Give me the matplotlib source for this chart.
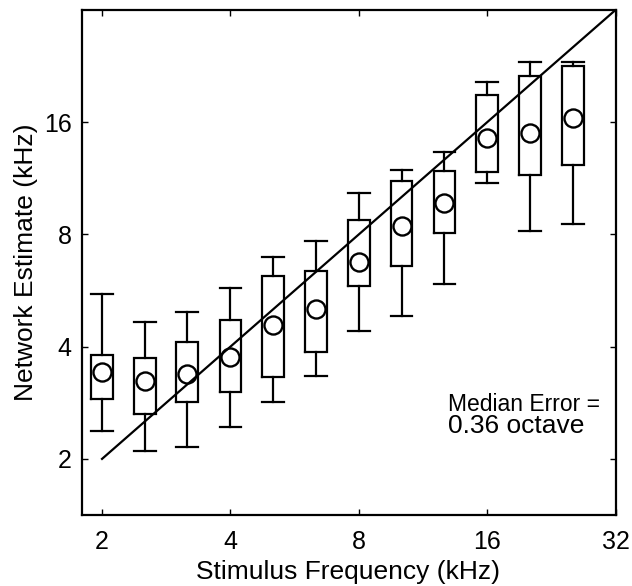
import matplotlib
matplotlib.use("Agg")
import matplotlib.pyplot as plt
from matplotlib.ticker import FixedLocator, FixedFormatter, NullLocator

plt.rcParams['font.family'] = ['Liberation Sans', 'DejaVu Sans']

# Stimulus frequencies (kHz), 1/3-octave spacing
freqs = [2.0, 2.52, 3.17, 4.0, 5.04, 6.35, 8.0, 10.08, 12.7, 16.0, 20.2, 25.4]
# Network estimates (kHz)
whisker_lo = [2.38, 2.10, 2.15, 2.43, 2.85, 3.33, 4.40, 4.82, 5.90, 10.98, 8.18, 8.54]
q1 = [2.90, 2.64, 2.85, 3.02, 3.31, 3.86, 5.82, 6.60, 8.07, 11.76, 11.54, 12.30]
median = [3.43, 3.24, 3.38, 3.76, 4.58, 5.05, 6.73, 8.44, 9.73, 14.50, 14.96, 16.41]
q3 = [3.80, 3.73, 4.11, 4.72, 6.17, 6.38, 8.76, 11.14, 11.87, 18.95, 21.35, 22.58]
whisker_hi = [5.54, 4.67, 4.96, 5.74, 6.98, 7.70, 10.36, 11.93, 13.33, 20.45, 23.14, 23.20]

identity = [2, 32]
xticks = [2, 4, 8, 16, 32]
yticks = [2, 4, 8, 16]
xlabel = "Stimulus Frequency (kHz)"
ylabel = "Network Estimate (kHz)"
note1 = "Median Error ="
note2 = "0.36 octave"

fig = plt.figure(figsize=(6.32, 5.86), dpi=100)
ax = fig.add_axes([81.5 / 632, 1 - 515 / 586, (615.5 - 81.5) / 632, (515 - 10) / 586])
ax.set_xscale('log', base=2)
ax.set_yscale('log', base=2)

lw = 1.6
half = 2 ** 0.0845
for p, lo, a, m, b, hi in zip(freqs, whisker_lo, q1, median, q3, whisker_hi):
    xl, xr = p / half, p * half
    ax.plot([xl, xr, xr, xl, xl], [a, a, b, b, a], color='black', lw=lw, solid_joinstyle='miter')
    ax.plot([p, p], [b, hi], color='black', lw=lw)
    ax.plot([p, p], [a, lo], color='black', lw=lw)
    ax.plot([xl, xr], [hi, hi], color='black', lw=lw)
    ax.plot([xl, xr], [lo, lo], color='black', lw=lw)
    ax.plot([p], [m], marker='o', ms=13, mfc='none', mec='black', mew=1.7)

ax.plot(identity, identity, color='black', lw=1.6)

ax.set_xlim(2 ** 0.84, 32)
ax.set_ylim(2 ** 0.5, 32)

ax.xaxis.set_major_locator(FixedLocator(xticks))
ax.xaxis.set_major_formatter(FixedFormatter([str(t) for t in xticks]))
ax.yaxis.set_major_locator(FixedLocator(yticks))
ax.yaxis.set_major_formatter(FixedFormatter([str(t) for t in yticks]))
ax.xaxis.set_minor_locator(NullLocator())
ax.yaxis.set_minor_locator(NullLocator())
ax.tick_params(which='major', direction='in', top=True, right=True, length=4, width=1.0,
               labelsize=18)
ax.tick_params(axis='x', pad=11)
ax.tick_params(axis='y', pad=7)
for s in ax.spines.values():
    s.set_linewidth(1.6)

ax.set_xlabel(xlabel, fontsize=19, labelpad=4)
ax.set_ylabel(ylabel, fontsize=19, labelpad=4)

ax.text(12.93, 2.69, note1, fontsize=16.5, ha='left', va='baseline')
ax.text(12.93, 2.35, note2, fontsize=19, ha='left', va='baseline')

fig.savefig('out.png', dpi=100)
